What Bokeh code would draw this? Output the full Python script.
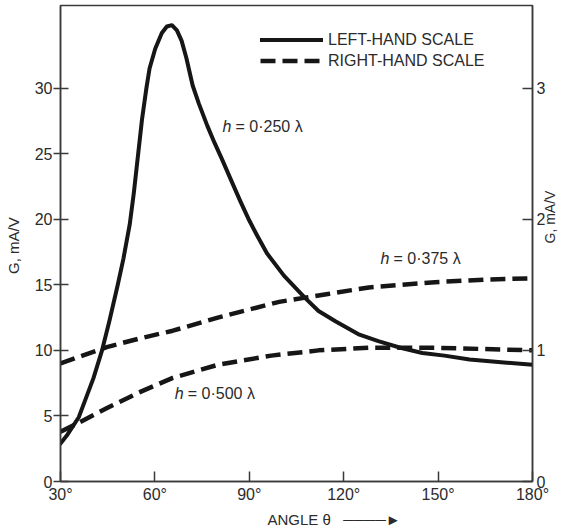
import math
from bokeh.plotting import figure
from bokeh.models import Range1d, LinearAxis, FixedTicker, Legend, LegendItem
from bokeh.embed import file_html
from bokeh.resources import INLINE
from bokeh.core.properties import value

# ---- data ----
# h = 0.250 lambda, left-hand scale (mA/V)
angle_250 = [30, 32, 35.8, 38, 40.5, 43.2, 45.5, 48.2, 50, 52, 53.3, 54.5, 55.9, 57.3, 58.3,
             60.1, 62.2, 63.8, 65.4, 67, 68.5, 70, 72, 74, 76.7, 79, 81.1, 84, 87.1, 90, 92.4,
             95.6, 101, 107.7, 112, 117.5, 125, 131, 138, 145, 152, 160, 170, 180]
g_250 = [2.9, 3.5, 4.9, 6.3, 7.9, 10.0, 12.2, 15.0, 17.0, 19.6, 22.0, 24.6, 27.6, 30.0, 31.5,
         33.0, 34.2, 34.7, 34.8, 34.4, 33.6, 32.3, 30.2, 28.8, 27.1, 25.8, 24.7, 23.1, 21.4, 19.9,
         18.8, 17.4, 15.7, 14.0, 13.0, 12.2, 11.2, 10.7, 10.2, 9.8, 9.6, 9.3, 9.1, 8.9]
# h = 0.375 lambda, right-hand scale (mA/V)
angle_375 = [30, 37, 44.7, 55, 65.7, 80, 99.5, 115, 128, 149, 165, 180]
g_375 = [0.90, 0.96, 1.025, 1.09, 1.15, 1.25, 1.37, 1.43, 1.48, 1.52, 1.54, 1.55]
# h = 0.500 lambda, right-hand scale (mA/V)
angle_500 = [30, 36, 44.8, 55, 65.7, 80, 97, 112, 128, 149, 165, 180]
g_500 = [0.38, 0.45, 0.56, 0.68, 0.79, 0.89, 0.96, 1.00, 1.02, 1.02, 1.01, 1.00]

x_ticks = [30, 60, 90, 120, 150, 180]
x_tick_labels = ["30°", "60°", "90°", "120°", "150°", "180°"]
left_ticks = [0, 5, 10, 15, 20, 25, 30]
right_ticks = [0, 1, 2, 3]

legend_labels = ["LEFT-HAND SCALE", "RIGHT-HAND SCALE"]
curve_labels = ["= 0·250 λ", "= 0·375 λ", "= 0·500 λ"]
label_x = [81.5, 131.7, 66.3]
label_y = [27.1, 17.0, 6.7]

FONT = "Liberation Sans"
INK = "#161616"
TXT = "#2b2b2b"
AX = "#3a3a3a"

W, H = 569, 530
BL, BR, BT, BB = 60, 28, 5, 49
FW, FH = W - BL - BR, H - BT - BB

p = figure(width=W, height=H, output_backend="svg", toolbar_location=None,
           x_range=Range1d(30, 180), y_range=Range1d(0, 36.3),
           min_border_left=BL, min_border_right=BR, min_border_top=BT, min_border_bottom=BB)
p.extra_y_ranges = {"right": Range1d(0, 3.63)}
p.grid.visible = False
p.outline_line_color = AX
p.outline_line_width = 1.5
p.background_fill_color = "white"
p.border_fill_color = "white"

# x axis
xa = p.xaxis[0]
xa.ticker = FixedTicker(ticks=x_ticks)
xa.major_label_overrides = {t: s for t, s in zip(x_ticks, x_tick_labels)}
xa.major_tick_in = 10
xa.major_tick_out = 0
xa.axis_label = "\u00a0" * 18 + "ANGLE θ\u00a0\u00a0\u00a0\u2500\u2500\u2500\u2500\u25BA"

# left y axis
ya = p.yaxis[0]
ya.ticker = FixedTicker(ticks=left_ticks)
ya.axis_label = "G,  mA/V"
ya.major_tick_in = 8
ya.major_tick_out = 7
ya.major_label_standoff = 1

# right y axis
ra = LinearAxis(y_range_name="right", ticker=FixedTicker(ticks=right_ticks),
                axis_label="G,  mA/V")
ra.major_tick_in = 10
ra.major_tick_out = 0
ra.axis_label_orientation = math.pi / 2
p.add_layout(ra, "right")

for ax in [xa, ya, ra]:
    ax.minor_tick_line_color = None
    ax.axis_line_color = AX
    ax.axis_line_width = 1.5
    ax.major_tick_line_color = AX
    ax.major_tick_line_width = 1.5
    ax.major_label_text_font = FONT
    ax.major_label_text_font_size = "16px"
    ax.major_label_text_color = TXT
    ax.axis_label_text_font = FONT
    ax.axis_label_text_font_size = "15px"
    ax.axis_label_text_font_style = "normal"
    ax.axis_label_text_color = TXT
ra.axis_label_text_font_size = "14px"
xa.major_label_standoff = 4
xa.axis_label_standoff = 5
ya.axis_label_standoff = 10
ra.major_label_standoff = 4
ra.axis_label_standoff = 2

# curves
r250 = p.line(angle_250, g_250, line_color=INK, line_width=4, line_join="round", line_cap="round")
r375 = p.line(angle_375, g_375, y_range_name="right", line_color=INK, line_width=4.5,
              line_dash="15 7")
r500 = p.line(angle_500, g_500, y_range_name="right", line_color=INK, line_width=4.5,
              line_dash="15 7")

# curve labels
p.text(x=label_x, y=label_y, text=["h"] * 3, text_font=value(FONT), text_font_style="italic",
       text_font_size="16px", text_color=TXT, text_baseline="middle", text_align="left")
p.text(x=label_x, y=label_y, text=curve_labels, text_font=value(FONT),
       text_font_size="16px", text_color=TXT, text_baseline="middle", text_align="left",
       x_offset=13)

legend = Legend(items=[LegendItem(label=legend_labels[0], renderers=[r250]),
                       LegendItem(label=legend_labels[1], renderers=[r375])],
                location=(200, FH - 24 - 42), orientation="vertical")
legend.border_line_alpha = 0
legend.background_fill_alpha = 0
legend.padding = 0
legend.margin = 0
legend.spacing = 0
legend.glyph_width = 63
legend.glyph_height = 21
legend.label_height = 21
legend.label_standoff = 5
legend.label_text_font = FONT
legend.label_text_font_size = "16px"
legend.label_text_color = TXT
p.add_layout(legend)

open("out.html", "w").write(file_html(p, INLINE))
